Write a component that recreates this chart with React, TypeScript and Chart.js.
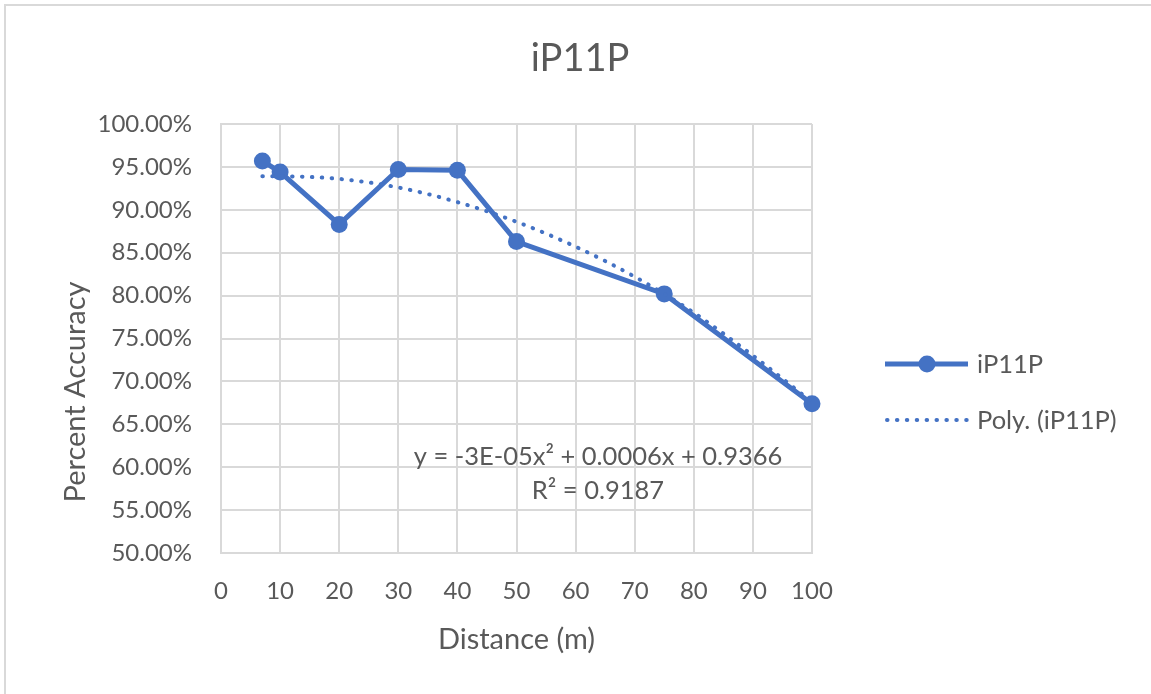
import React, { useEffect, useRef } from "react";
import { Chart, registerables } from "chart.js";

Chart.register(...registerables);

// ---- data ----
const chartTitle = "iP11P";
const xAxisTitle = "Distance (m)";
const yAxisTitle = "Percent Accuracy";
const seriesName = "iP11P";
const trendName = "Poly. (iP11P)";
const distances = [7, 10, 20, 30, 40, 50, 75, 100];
const accuracy = [0.957, 0.944, 0.883, 0.947, 0.946, 0.863, 0.802, 0.674];
const trendDistances = [7, 10, 20, 30, 40, 50, 60, 70, 80, 90, 100];
const trendAccuracy = [0.939, 0.939, 0.936, 0.926, 0.909, 0.886, 0.857, 0.822, 0.78, 0.73, 0.676];
const equationLines = ["y = -3E-05x\u00B2 + 0.0006x + 0.9366", "R\u00B2 = 0.9187"];
const xMin = 0;
const xMax = 100;
const xStep = 10;
const yMin = 0.5;
const yMax = 1.0;
const yStep = 0.05;

const BLUE = "#4472C4";
const TEXT = "#595959";
const GRID = "#d9d9d9";
const FONT = "Lato";

const W = 1151;
const H = 694;

const overlayPlugin = {
  id: "overlay",
  afterDraw(chart: any) {
    const ctx = chart.ctx as CanvasRenderingContext2D;
    ctx.save();
    // outer border
    ctx.strokeStyle = GRID;
    ctx.lineWidth = 2;
    ctx.beginPath();
    ctx.moveTo(5, H);
    ctx.lineTo(5, 5);
    ctx.lineTo(W, 5);
    ctx.stroke();

    ctx.fillStyle = TEXT;
    ctx.textBaseline = "alphabetic";
    // title
    ctx.font = `38px ${FONT}`;
    ctx.textAlign = "center";
    ctx.fillText(chartTitle, 580, 71);

    // x axis title
    ctx.font = `29px ${FONT}`;
    ctx.fillText(xAxisTitle, (chart.chartArea.left + chart.chartArea.right) / 2, 649);

    // y axis title
    ctx.save();
    ctx.translate(85, 392);
    ctx.rotate(-Math.PI / 2);
    ctx.fillText(yAxisTitle, 0, 0);
    ctx.restore();

    // equation
    ctx.font = `25.5px ${FONT}`;
    ctx.fillText(equationLines[0], 598, 464.5);
    ctx.fillText(equationLines[1], 598, 499);

    // legend
    ctx.textAlign = "left";
    ctx.fillText(seriesName, 977, 373);
    ctx.fillText(trendName, 977, 429);

    ctx.strokeStyle = BLUE;
    ctx.lineWidth = 5;
    ctx.lineCap = "butt";
    ctx.beginPath();
    ctx.moveTo(885, 364);
    ctx.lineTo(968, 364);
    ctx.stroke();
    ctx.fillStyle = BLUE;
    ctx.beginPath();
    ctx.arc(927, 364, 8.5, 0, Math.PI * 2);
    ctx.fill();

    ctx.lineWidth = 4;
    ctx.lineCap = "round";
    ctx.setLineDash([0.5, 9.4]);
    ctx.beginPath();
    ctx.moveTo(887, 420);
    ctx.lineTo(968, 420);
    ctx.stroke();
    ctx.setLineDash([]);
    ctx.restore();
  },
};

export default function App() {
  const ref = useRef<HTMLCanvasElement | null>(null);

  useEffect(() => {
    if (!ref.current) return;
    const chart = new Chart(ref.current, {
      type: "scatter",
      data: {
        datasets: [
          {
            label: trendName,
            data: trendDistances.map((x, i) => ({ x, y: trendAccuracy[i] })),
            showLine: true,
            borderColor: BLUE,
            backgroundColor: BLUE,
            borderWidth: 4,
            borderDash: [0.5, 9.4],
            borderCapStyle: "round",
            pointRadius: 0,
            pointHoverRadius: 0,
            cubicInterpolationMode: "monotone",
            clip: false,
          },
          {
            label: seriesName,
            data: distances.map((x, i) => ({ x, y: accuracy[i] })),
            showLine: true,
            borderColor: BLUE,
            backgroundColor: BLUE,
            borderWidth: 5,
            pointRadius: 8.5,
            pointBorderWidth: 0,
            pointBackgroundColor: BLUE,
            tension: 0,
            clip: false,
          },
        ],
      },
      options: {
        responsive: false,
        animation: false,
        events: [],
        layout: { padding: { top: 124, left: 0, right: W - 812, bottom: 0 } },
        plugins: {
          legend: { display: false },
          title: { display: false },
          tooltip: { enabled: false },
        },
        scales: {
          x: {
            type: "linear",
            min: xMin,
            max: xMax,
            afterFit: (s: any) => {
              s.height = H - 553;
            },
            ticks: {
              stepSize: xStep,
              color: TEXT,
              font: { family: FONT, size: 24 },
              padding: 24,
              maxRotation: 0,
            },
            grid: { color: GRID, lineWidth: 2, drawTicks: false },
            border: { color: GRID, width: 2 },
          },
          y: {
            type: "linear",
            min: yMin,
            max: yMax,
            afterFit: (s: any) => {
              s.width = 221;
            },
            ticks: {
              stepSize: yStep,
              color: TEXT,
              font: { family: FONT, size: 24 },
              padding: 29,
              callback: (v: any) => (Number(v) * 100).toFixed(2) + "%",
            },
            grid: { color: GRID, lineWidth: 2, drawTicks: false },
            border: { color: GRID, width: 2 },
          },
        },
      },
      plugins: [overlayPlugin],
    } as any);
    return () => chart.destroy();
  }, []);

  return (
    <div style={{ position: "fixed", left: 0, top: 0, width: W, height: H, background: "#fff" }}>
      <canvas ref={ref} width={W} height={H} style={{ display: "block", width: W, height: H }} />
    </div>
  );
}
